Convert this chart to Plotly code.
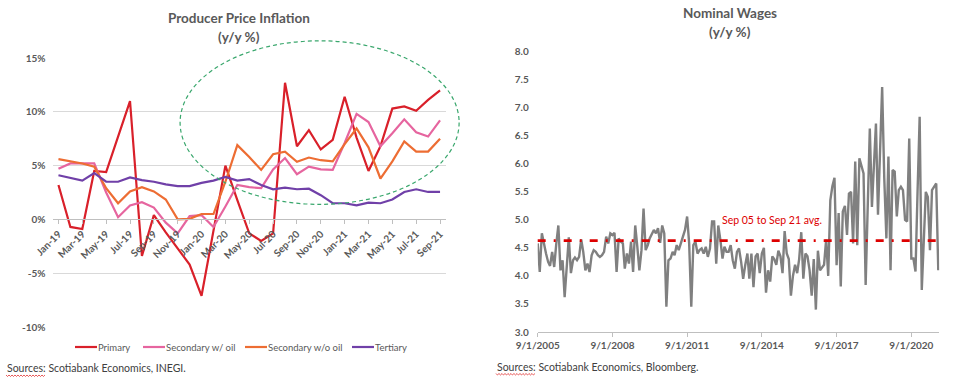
import plotly.graph_objects as go
import pandas as pd

# ---------------- data ----------------
months = ["Jan-19", "Feb-19", "Mar-19", "Apr-19", "May-19", "Jun-19", "Jul-19", "Aug-19",
          "Sep-19", "Oct-19", "Nov-19", "Dec-19", "Jan-20", "Feb-20", "Mar-20", "Apr-20",
          "May-20", "Jun-20", "Jul-20", "Aug-20", "Sep-20", "Oct-20", "Nov-20", "Dec-20",
          "Jan-21", "Feb-21", "Mar-21", "Apr-21", "May-21", "Jun-21", "Jul-21", "Aug-21",
          "Sep-21"]

primary = [3.2, -0.7, -0.9, 4.5, 4.4, 7.7, 11.0, -3.4, 0.4, -1.2, -2.7, -4.2, -7.1, -1.0,
           5.0, 1.8, -1.3, -2.0, -1.3, 12.7, 6.8, 8.3, 6.5, 7.4, 11.4, 7.6, 4.5, 6.8, 10.3,
           10.5, 10.1, 11.1, 12.0]
secondary_oil = [4.7, 5.2, 5.2, 5.2, 2.5, 0.2, 1.3, 1.6, 1.1, -0.3, -1.3, 0.3, 0.4, -0.7,
                 1.2, 3.2, 3.0, 2.9, 4.65, 5.7, 4.2, 4.9, 4.65, 4.6, 7.1, 9.8, 9.05, 6.8,
                 8.0, 9.3, 8.1, 7.7, 9.2]
secondary_wo_oil = [5.6, 5.4, 5.2, 4.9, 2.9, 1.5, 2.6, 3.0, 2.6, 1.85, 0.0, 0.05, 0.5, 0.5,
                    3.5, 6.9, 5.8, 4.6, 6.05, 6.3, 5.35, 5.75, 5.5, 5.4, 7.0, 8.45, 6.7, 3.8,
                    5.4, 7.25, 6.3, 6.3, 7.5]
tertiary = [4.1, 3.85, 3.6, 4.3, 3.5, 3.5, 3.9, 3.65, 3.5, 3.25, 3.1, 3.1, 3.4, 3.6, 3.95,
            3.6, 3.75, 3.2, 2.8, 2.95, 2.8, 2.85, 2.25, 1.5, 1.5, 1.3, 1.55, 1.5, 1.85, 2.55,
            2.8, 2.55, 2.55]

ppi_series = ["Primary", "Secondary w/ oil", "Secondary w/o oil", "Tertiary"]
ppi_ticks = [-10, -5, 0, 5, 10, 15]
ppi_tick_text = ["-10%", "-5%", "0%", "5%", "10%", "15%"]

wages_start = "2005-09-01"
wages = [
    4.58, 4.07, 4.76, 4.55, 4.40, 4.25, 4.18, 4.43, 4.16, 4.58,
    4.90, 4.10, 4.28, 3.62, 4.10, 4.69, 4.05, 4.28, 4.33, 4.28,
    4.34, 4.65, 4.43, 4.10, 4.22, 4.07, 4.37, 4.46, 4.43, 4.37,
    4.34, 4.37, 4.43, 4.70, 4.58, 4.76, 4.73, 4.77, 4.07, 4.67,
    4.61, 4.58, 4.13, 4.40, 4.22, 4.61, 4.07, 4.90,
    4.52, 4.10, 4.46, 5.20, 4.46, 4.55, 4.67, 4.76, 4.82, 4.76,
    4.85, 4.59, 4.90, 4.76, 3.45, 4.28, 4.31, 4.43, 4.37, 4.55,
    4.46, 4.58, 4.70, 4.82, 5.06, 4.58, 3.45, 4.55, 4.61, 4.40,
    4.46, 4.49, 4.40, 4.52, 4.34, 4.49, 4.97, 4.97, 4.22, 4.90,
    4.64, 4.31, 4.52, 4.43, 4.43, 4.55, 4.28, 4.13, 4.43, 4.49,
    4.25, 3.95, 4.20, 4.40, 3.95, 4.40, 3.80, 4.35, 4.40, 4.05,
    4.40, 4.50, 3.70, 4.10, 3.90, 4.35, 4.30, 4.20, 4.45, 4.35,
    4.05, 4.80, 4.40, 4.30, 3.65, 4.00, 4.20, 4.05, 4.30, 4.78,
    3.95, 4.40, 4.35, 4.10, 3.65, 4.30, 3.40, 4.45, 4.10, 4.15,
    4.20, 4.65, 4.00,
    5.35, 5.60, 5.75,
    4.19, 5.12, 3.81, 5.15, 5.25, 4.73, 5.47, 5.50, 4.58, 6.04,
    4.55, 6.10, 5.98, 5.83, 3.84, 5.20, 6.63, 5.23, 6.00, 6.72,
    5.09, 6.20, 7.37, 5.74, 4.67, 6.13, 4.10, 5.89, 5.86, 5.06,
    5.53, 5.59, 5.53, 5.00, 4.97, 6.45, 4.31, 4.31, 4.08, 5.50,
    6.84, 3.75, 4.60, 5.50, 5.41, 4.46, 5.53, 5.60, 5.65, 4.10,
]
wages_avg = 4.63
wage_tick_dates = ["2005-09-01", "2008-09-01", "2011-09-01", "2014-09-01",
                   "2017-09-01", "2020-09-01"]
wage_tick_text = ["9/1/2005", "9/1/2008", "9/1/2011", "9/1/2014", "9/1/2017", "9/1/2020"]
wage_yticks = [3.0, 3.5, 4.0, 4.5, 5.0, 5.5, 6.0, 6.5, 7.0, 7.5, 8.0]

wage_dates = pd.date_range(wages_start, periods=len(wages), freq="MS")

# ---------------- layout geometry ----------------
W, H = 955, 378
FONT = "Lato"
GRAY = "#595959"

L_x = (52.5, 446.0)
L_y = (58.0, 327.0)   # top, bottom in px
R_x = (537.7, 939.3)
R_y = (51.7, 332.0)

def dom_x(a):
    return [a[0] / W, a[1] / W]

def dom_y(a):
    return [1 - a[1] / H, 1 - a[0] / H]

ppi_range = [-10, 15]
L_dom_y = dom_y(L_y)
zero_pos = L_dom_y[0] + (0 - ppi_range[0]) / (ppi_range[1] - ppi_range[0]) * (L_dom_y[1] - L_dom_y[0])

def left_px(i):
    return L_x[0] + (i + 0.5) / len(months) * (L_x[1] - L_x[0])

def left_py(v):
    return L_y[1] - (v - ppi_range[0]) / (ppi_range[1] - ppi_range[0]) * (L_y[1] - L_y[0])

colors = ["#d9202a", "#e6659f", "#ed6d33", "#7040a8"]
series = [primary, secondary_oil, secondary_wo_oil, tertiary]

fig = go.Figure()
for name, vals, col in zip(ppi_series, series, colors):
    fig.add_trace(go.Scatter(x=months, y=vals, mode="lines", name=name, showlegend=False,
                             line=dict(color=col, width=2.2), xaxis="x", yaxis="y"))

fig.add_trace(go.Scatter(x=wage_dates, y=wages, mode="lines", showlegend=False,
                         line=dict(color="#808080", width=2.4), xaxis="x2", yaxis="y2"))

tickfont = dict(family=FONT, size=10, color=GRAY, weight="bold")

fig.update_layout(
    width=W, height=H, autosize=False,
    margin=dict(l=0, r=0, t=0, b=0, pad=0),
    paper_bgcolor="white", plot_bgcolor="white",
    font=dict(family=FONT, color=GRAY),
    showlegend=False,
    xaxis=dict(domain=dom_x(L_x), type="category", range=[-0.5, len(months) - 0.5],
               anchor="free", position=zero_pos,
               tickvals=months[::2], tickangle=-45, tickfont=tickfont,
               showline=True, linecolor="#bfbfbf", linewidth=1,
               ticks="outside", ticklen=4, tickcolor="#bfbfbf",
               showgrid=False, zeroline=False, fixedrange=True, automargin=False),
    yaxis=dict(domain=L_dom_y, range=ppi_range, tickvals=ppi_ticks, ticktext=ppi_tick_text,
               tickfont=tickfont,
               showgrid=True, gridcolor="#d9d9d9", gridwidth=1,
               zeroline=False, showline=False, ticks="", ticklabelstandoff=6,
               anchor="x", fixedrange=True, automargin=False),
    xaxis2=dict(domain=dom_x(R_x), type="date",
                range=[wages_start, "2021-10-16"],
                tickvals=wage_tick_dates, ticktext=wage_tick_text,
                tickfont=tickfont,
                showline=True, linecolor="#bfbfbf", linewidth=1,
                ticks="outside", ticklen=4, tickcolor="#bfbfbf",
                showgrid=False, zeroline=False, anchor="y2", fixedrange=True,
                automargin=False),
    yaxis2=dict(domain=dom_y(R_y), range=[3, 8], tickvals=wage_yticks, tickformat=".1f",
                tickfont=tickfont,
                showgrid=False, zeroline=False, showline=False, ticks="",
                ticklabelstandoff=8, anchor="x2", fixedrange=True, automargin=False),
)

# titles / texts
def ann(text, xp, yp, size, color=GRAY, bold=False, xanchor="center"):
    fig.add_annotation(text=("<b>%s</b>" % text) if bold else text,
                       x=xp / W, y=1 - yp / H, xref="paper", yref="paper",
                       xanchor=xanchor, yanchor="middle", showarrow=False,
                       font=dict(family=FONT, size=size, color=color))

ann("Producer Price Inflation", 238.5, 18.3, 13.5, bold=True)
ann("(y/y %)", 238.5, 36.7, 13.5, bold=True)
ann("Nominal Wages", 730, 12.7, 13.5, bold=True)
ann("(y/y %)", 730, 32.3, 13.5, bold=True)
ann("Sources: Scotiabank Economics, INEGI.", 5, 368, 10.5, color="#404040", xanchor="left")
ann("Sources: Scotiabank Economics, Bloomberg.", 495, 366.5, 10.5, color="#404040", xanchor="left")

# manual legend (line sample + label) for the left chart
legend_x = [75, 143, 245, 352]
legend_y = 347
for name, col, lx in zip(ppi_series, colors, legend_x):
    fig.add_shape(type="line", xref="paper", yref="paper",
                  x0=lx / W, x1=(lx + 22) / W, y0=1 - legend_y / H, y1=1 - legend_y / H,
                  line=dict(color=col, width=2.2))
    fig.add_annotation(text=name, x=(lx + 22) / W, y=1 - legend_y / H, xref="paper",
                       yref="paper", xanchor="left", yanchor="middle", showarrow=False,
                       xshift=-1, font=dict(family=FONT, size=9.5, color=GRAY))

# avg label
fig.add_annotation(text="Sep 05 to Sep 21 avg.", x="2013-01-01", y=5.0, xref="x2", yref="y2",
                   xanchor="left", yanchor="middle", showarrow=False,
                   font=dict(family=FONT, size=10.5, color="#dd0000"))

# avg line
fig.add_shape(type="line", xref="x2 domain", yref="y2", x0=0, x1=1,
              y0=wages_avg, y1=wages_avg,
              line=dict(color="#dd0000", width=2.8, dash="8px,8px,2px,8px"))

# ellipse highlighting recent period (month index / percent -> paper)
ell_i = (10.2, 33.6)
ell_v = (1.4, 16.6)
fig.add_shape(type="circle", xref="paper", yref="paper",
              x0=left_px(ell_i[0]) / W, x1=left_px(ell_i[1]) / W,
              y0=1 - left_py(ell_v[0]) / H, y1=1 - left_py(ell_v[1]) / H,
              line=dict(color="#3aa76d", width=1.2, dash="4px,3px"))

# spell-check wavy underline under "Sources:"
def wavy(x0, x1, y):
    pts = []
    x = x0
    k = 0
    while x <= x1:
        pts.append("%s%.4f,%.4f" % ("M" if k == 0 else "L", x / W, 1 - (y + (1 if k % 2 else -0.5)) / H))
        x += 1.5
        k += 1
    return " ".join(pts)

for (a, b, y) in [(6, 46, 375.5), (496, 535, 374)]:
    fig.add_shape(type="path", xref="paper", yref="paper", path=wavy(a, b, y),
                  line=dict(color="#e03030", width=0.8))

fig.write_html("out.html", config={"displayModeBar": False, "staticPlot": False},
               post_script="document.body.style.margin='0';document.body.style.padding='0';"
                           "document.documentElement.style.overflow='hidden';")
